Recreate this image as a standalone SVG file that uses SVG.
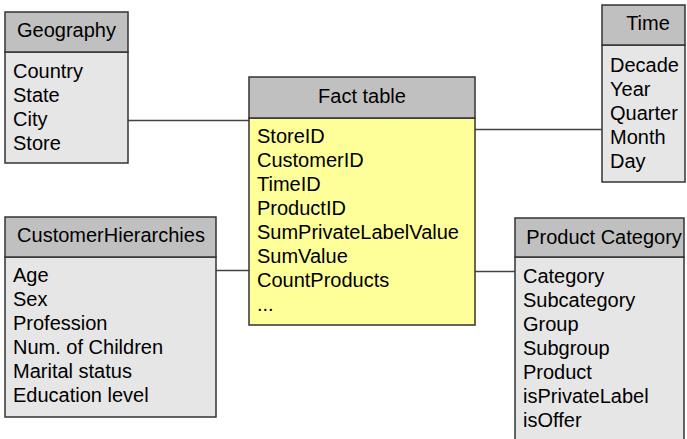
<svg xmlns="http://www.w3.org/2000/svg" width="687" height="439" viewBox="0 0 687 439">
<style>
text{font-family:"Liberation Sans",Arial,sans-serif;font-size:20px;fill:#000}
.hd{fill:#c0c0c0;stroke:#333;stroke-width:1.5}
.bd{fill:#e6e6e6;stroke:#333;stroke-width:1.5}
.fb{fill:#ffff99;stroke:#333;stroke-width:1.5}
.c{stroke:#444;stroke-width:1.3;fill:none}
.m{text-anchor:middle}
</style>
<rect width="687" height="439" fill="#fff"/>
<g id="connectors">
<line class="c" x1="128" y1="120.5" x2="249" y2="120.5"/>
<line class="c" x1="475" y1="129.5" x2="602" y2="129.5" stroke="#111"/>
<line class="c" x1="216" y1="270.5" x2="249" y2="270.5" stroke="#777"/>
<line class="c" x1="475" y1="271.5" x2="515" y2="271.5"/>
</g>
<g id="geography">
<rect class="bd" x="5" y="52" width="123" height="111"/>
<rect class="hd" x="5" y="12" width="123" height="40"/>
<text class="m" x="66.5" y="37">Geography</text>
<text x="13" y="78">Country</text>
<text x="13" y="102">State</text>
<text x="13" y="126">City</text>
<text x="13" y="150">Store</text>
</g>
<g id="fact">
<rect class="fb" x="249" y="118" width="226" height="207"/>
<rect class="hd" x="249" y="77" width="226" height="41"/>
<text class="m" x="362" y="103">Fact table</text>
<text x="257" y="143">StoreID</text>
<text x="257" y="167">CustomerID</text>
<text x="257" y="191">TimeID</text>
<text x="257" y="215">ProductID</text>
<text x="257" y="239">SumPrivateLabelValue</text>
<text x="257" y="263">SumValue</text>
<text x="257" y="287">CountProducts</text>
<text x="257" y="311">...</text>
</g>
<g id="time">
<rect class="bd" x="602" y="45" width="83" height="137"/>
<rect class="hd" x="602" y="5" width="83" height="40"/>
<text class="m" x="648" y="30">Time</text>
<text x="610" y="72">Decade</text>
<text x="610" y="96">Year</text>
<text x="610" y="120">Quarter</text>
<text x="610" y="144">Month</text>
<text x="610" y="168">Day</text>
</g>
<g id="customer">
<rect class="bd" x="5" y="257" width="211" height="160"/>
<rect class="hd" x="5" y="217" width="211" height="40"/>
<text class="m" x="111" y="242">CustomerHierarchies</text>
<text x="13" y="282">Age</text>
<text x="13" y="306">Sex</text>
<text x="13" y="330">Profession</text>
<text x="13" y="354">Num. of Children</text>
<text x="13" y="378">Marital status</text>
<text x="13" y="402">Education level</text>
</g>
<g id="product">
<rect class="bd" x="515" y="257" width="169" height="190"/>
<rect class="hd" x="515" y="218" width="169" height="39"/>
<text class="m" x="604" y="244">Product Category</text>
<text x="523" y="283">Category</text>
<text x="523" y="307">Subcategory</text>
<text x="523" y="331">Group</text>
<text x="523" y="355">Subgroup</text>
<text x="523" y="379">Product</text>
<text x="523" y="403">isPrivateLabel</text>
<text x="523" y="427">isOffer</text>
</g>
</svg>
